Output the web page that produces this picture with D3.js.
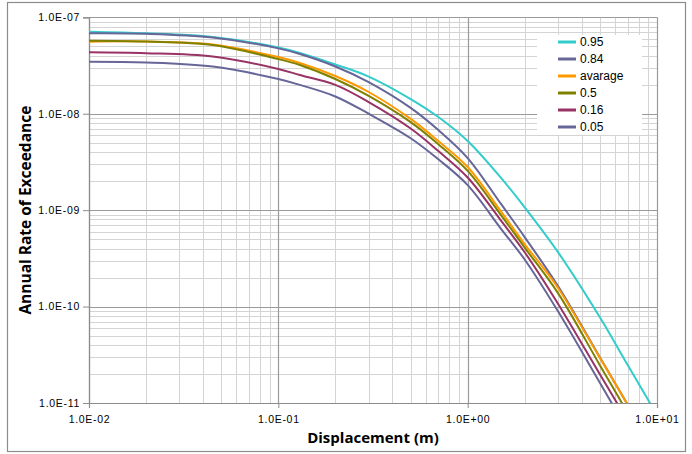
<!DOCTYPE html>
<html>
<head>
<meta charset="utf-8">
<script src="https://cdn.jsdelivr.net/npm/d3@7/dist/d3.min.js"></script>
<style>
  html, body { margin: 0; padding: 0; background: #fff; }
  svg { display: block; }
</style>
</head>
<body>
<svg id="chart" width="692" height="454"></svg>
<script>
// ---------------- data ----------------
const displacement = [0.01, 0.02, 0.045, 0.1, 0.13, 0.2, 0.3, 0.5, 0.7, 1, 1.5, 2, 3, 5, 7, 10];
const seriesNames = ["0.95", "0.84", "avarage", "0.5", "0.16", "0.05"];
const seriesColors = ["#33cccc", "#666699", "#ff9900", "#808000", "#993366", "#666699"];
const p95 = [7.10e-8, 6.83e-8, 6.25e-8, 4.86e-8, 4.27e-8, 3.24e-8, 2.43e-8, 1.42e-8, 9.24e-9, 5.21e-9, 2.16e-9, 1.07e-9, 3.67e-10, 7.7e-11, 2.48e-11, 7.5e-12];
const p84 = [6.83e-8, 6.75e-8, 6.17e-8, 4.76e-8, 4.16e-8, 3.09e-8, 2.13e-8, 1.15e-8, 6.77e-9, 3.47e-9, 1.16e-9, 5.26e-10, 1.63e-10, 2.96e-11, 9.6e-12, 2.75e-12];
const pAvg = [5.58e-8, 5.61e-8, 5.22e-8, 3.87e-8, 3.36e-8, 2.46e-8, 1.68e-8, 8.83e-9, 5.21e-9, 2.80e-9, 9.70e-10, 4.45e-10, 1.56e-10, 2.92e-11, 9.6e-12, 2.8e-12];
const p50 = [5.71e-8, 5.60e-8, 5.16e-8, 3.69e-8, 3.20e-8, 2.29e-8, 1.53e-8, 8.17e-9, 4.82e-9, 2.55e-9, 8.89e-10, 4.09e-10, 1.38e-10, 2.45e-11, 7.85e-12, 2.2e-12];
const p16 = [4.34e-8, 4.25e-8, 3.92e-8, 2.91e-8, 2.52e-8, 1.99e-8, 1.32e-8, 7.02e-9, 4.10e-9, 2.18e-9, 7.78e-10, 3.66e-10, 1.07e-10, 1.97e-11, 6.5e-12, 1.9e-12];
const p05 = [3.46e-8, 3.40e-8, 3.08e-8, 2.29e-8, 1.99e-8, 1.51e-8, 1.00e-8, 5.57e-9, 3.37e-9, 1.82e-9, 6.41e-10, 3.08e-10, 8.93e-11, 1.61e-11, 5.2e-12, 1.6e-12];
const xTickValues = [0.01, 0.1, 1, 10];
const xTickLabels = ["1.0E-02", "1.0E-01", "1.0E+00", "1.0E+01"];
const yTickValues = [1e-11, 1e-10, 1e-9, 1e-8, 1e-7];
const yTickLabels = ["1.0E-11", "1.0E-10", "1.0E-09", "1.0E-08", "1.0E-07"];
const xTitle = "Displacement (m)";
const yTitle = "Annual Rate of Exceedance";

const seriesValues = [p95, p84, pAvg, p50, p16, p05];
const series = seriesNames.map((name, i) => ({
  name, color: seriesColors[i],
  points: displacement.map((d, j) => ({x: d, y: seriesValues[i][j]}))
}));

// ---------------- layout ----------------
const L = 89, R = 657, T = 17.3, B = 403;
const svg = d3.select("#chart");

// outer frame
svg.append("rect").attr("x", 7.5).attr("y", 2.5).attr("width", 678).attr("height", 449)
  .attr("fill", "#fff").attr("stroke", "#8c8c8c").attr("stroke-width", 1.2);

const x = d3.scaleLog().domain([0.01, 10]).range([L, R]);
const y = d3.scaleLog().domain([1e-11, 1e-7]).range([B, T]);

const grid = svg.append("g");
// minor grid
const xMinor = [], yMinor = [];
for (let e = -2; e < 1; e++) for (let k = 2; k <= 9; k++) xMinor.push(k * Math.pow(10, e));
for (let e = -11; e < -7; e++) for (let k = 2; k <= 9; k++) yMinor.push(k * Math.pow(10, e));
grid.selectAll(".xm").data(xMinor).enter().append("line")
  .attr("x1", d => Math.round(x(d)) + 0.5).attr("x2", d => Math.round(x(d)) + 0.5)
  .attr("y1", T).attr("y2", B).attr("stroke", "#d4d4d4").attr("stroke-width", 1);
grid.selectAll(".ym").data(yMinor).enter().append("line")
  .attr("y1", d => Math.round(y(d)) + 0.5).attr("y2", d => Math.round(y(d)) + 0.5)
  .attr("x1", L).attr("x2", R).attr("stroke", "#d4d4d4").attr("stroke-width", 1);
// major grid
grid.selectAll(".xM").data(xTickValues).enter().append("line")
  .attr("x1", d => Math.round(x(d)) + 0.5).attr("x2", d => Math.round(x(d)) + 0.5)
  .attr("y1", T).attr("y2", B).attr("stroke", "#9a9a9a").attr("stroke-width", 1.2);
grid.selectAll(".yM").data(yTickValues).enter().append("line")
  .attr("y1", d => Math.round(y(d)) + 0.5).attr("y2", d => Math.round(y(d)) + 0.5)
  .attr("x1", L).attr("x2", R).attr("stroke", "#9a9a9a").attr("stroke-width", 1.2);

// axes
const xAxis = d3.axisBottom(x).tickValues(xTickValues).tickFormat((d, i) => xTickLabels[i]).tickSize(5).tickPadding(8);
const yAxis = d3.axisLeft(y).tickValues(yTickValues).tickFormat((d, i) => yTickLabels[i]).tickSize(6).tickPadding(3);
const gx = svg.append("g").attr("transform", `translate(0,${B})`).call(xAxis);
const gy = svg.append("g").attr("transform", `translate(${L},0)`).call(yAxis);
[gx, gy].forEach(g => {
  g.select(".domain").attr("stroke", "#8c8c8c").attr("stroke-width", 1.2);
  g.selectAll(".tick line").attr("stroke", "#8c8c8c");
  g.selectAll(".tick text").attr("fill", "#000").style("font-family", "'Liberation Sans', Arial, sans-serif")
    .style("font-size", "10.5px").style("letter-spacing", "0.7px");
});

// clip
svg.append("clipPath").attr("id", "clip").append("rect")
  .attr("x", L).attr("y", T - 2).attr("width", R - L).attr("height", B - T + 2);

const line = d3.line().x(d => x(d.x)).y(d => y(d.y)).curve(d3.curveCatmullRom.alpha(0.5));
svg.append("g").attr("clip-path", "url(#clip)")
  .selectAll("path").data(series).enter().append("path")
  .attr("d", d => line(d.points)).attr("fill", "none")
  .attr("stroke", d => d.color).attr("stroke-width", 2);

// legend
const lg = svg.append("g");
lg.append("rect").attr("x", 537).attr("y", 35).attr("width", 105).attr("height", 100).attr("fill", "#fff");
const rows = lg.selectAll(".row").data(series).enter().append("g")
  .attr("transform", (d, i) => `translate(0,${42 + i * 17})`);
rows.append("line").attr("x1", 558).attr("x2", 576).attr("y1", 0).attr("y2", 0)
  .attr("stroke", d => d.color).attr("stroke-width", 3);
rows.append("text").attr("x", 580).attr("y", 0).attr("dy", "0.35em")
  .style("font-family", "'Liberation Sans', Arial, sans-serif").style("font-size", "12px")
  .text(d => d.name);

// titles
svg.append("text").attr("x", (L + R) / 2).attr("y", 443).attr("text-anchor", "middle")
  .style("font-family", "'Open Sans', sans-serif").style("font-weight", "bold").style("font-size", "15px")
  .text(xTitle);
svg.append("text").attr("transform", `translate(31,${(T + B) / 2}) rotate(-90)`).attr("text-anchor", "middle")
  .style("font-family", "'Open Sans', sans-serif").style("font-weight", "bold").style("font-size", "15.5px")
  .text(yTitle);
</script>
</body>
</html>
